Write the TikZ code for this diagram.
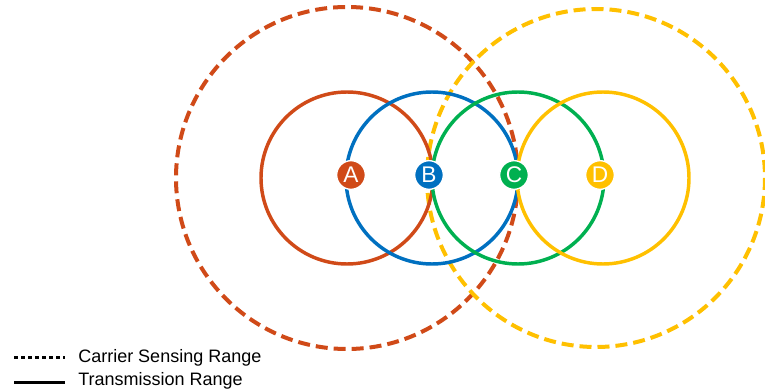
\documentclass[tikz,border=0pt]{standalone}
\usepackage{fontspec}
\setmainfont{Liberation Sans}
\usetikzlibrary{positioning}
\definecolor{rojo}{HTML}{D04A18}
\definecolor{azul}{HTML}{0070C0}
\definecolor{verde}{HTML}{00B050}
\definecolor{amarillo}{HTML}{FFC000}

\begin{document}
\begin{tikzpicture}[
  x=0.75pt, y=-0.75pt,
  tx/.style={line width=2.6pt},
  cs/.style={line width=3pt, dash pattern=on 9pt off 4.5pt},
  nodo/.style={circle, draw=white, line width=1pt, minimum size=21.5pt,
               inner sep=0pt, text=white, font=\fontsize{17}{17}\selectfont},
  leyenda/.style={font=\fontsize{13.5}{15}\selectfont, anchor=west, inner sep=0pt}
]
\useasboundingbox (0,0) rectangle (765,392);

% ---- Carrier sensing ranges ----
\draw[cs, rojo] (347,178) circle[radius=171];
\draw[cs, amarillo] (596,178) circle[radius=169];

% ---- Transmission ranges ----
\draw[tx, rojo] (347,178) circle[radius=86];
\draw[tx, azul] (432,178) circle[radius=86];
\draw[tx, verde] (518,178) circle[radius=86];
\draw[tx, amarillo] (603,178) circle[radius=86];

% ---- Stations ----
\node[nodo, fill=rojo] (A) at (351,175) {A};
\node[nodo, fill=azul] (B) at (429,175) {B};
\node[nodo, fill=verde] (C) at (514,175) {C};
\node[nodo, fill=amarillo] (D) at (600,175) {D};

% ---- Legend ----
\coordinate (cs1) at (14,358);
\coordinate (cs2) at (65,358);
\coordinate (tx1) at (14,383);
\coordinate (tx2) at (65,383);
\draw[line width=2.25pt, dash pattern=on 3pt off 2.25pt] (cs1) -- (cs2);
\draw[line width=2.25pt] (tx1) -- (tx2);
\node[leyenda] (lcs) at (78,358) {Carrier Sensing Range};
\node[leyenda] (ltx) at (78,381) {Transmission Range};
\end{tikzpicture}
\end{document}
